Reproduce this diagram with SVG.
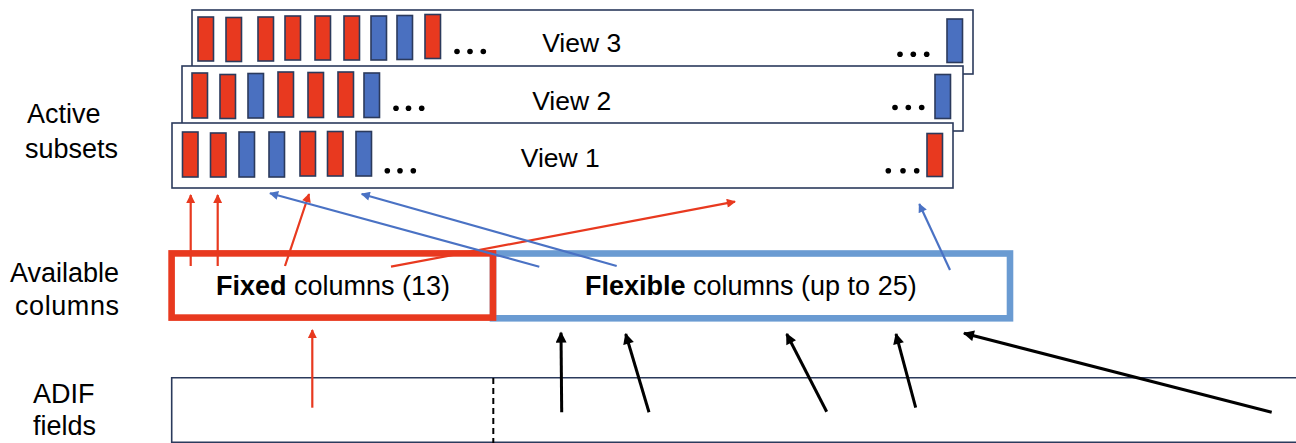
<svg xmlns="http://www.w3.org/2000/svg" width="1296" height="443" viewBox="0 0 1296 443">
<style>
.t{font-family:"Liberation Sans",Arial,sans-serif;fill:#000}
.lab{font-size:27px}
.vt{font-size:26.5px}
.ct{font-size:27px}
.b{font-weight:bold}
.view{fill:#fff;stroke:#2B3A5C;stroke-width:1.6}
.r{fill:#E8391F;stroke:#2B3A5C;stroke-width:1.6}
.u{fill:#4A70C0;stroke:#2B3A5C;stroke-width:1.6}
.dot{fill:#000}
.ar{stroke:#E8391F;stroke-width:2.2;fill:none}
.ab{stroke:#4A72C4;stroke-width:2.2;fill:none}
.ak{stroke:#000;stroke-width:3;fill:none}
</style>
<defs>
<marker id="mr" viewBox="0 0 10 10" refX="9" refY="5" markerUnits="userSpaceOnUse" markerWidth="10" markerHeight="9" orient="auto"><path d="M0,0 L10,5 L0,10 z" fill="#E8391F"/></marker>
<marker id="mb" viewBox="0 0 10 10" refX="9" refY="5" markerUnits="userSpaceOnUse" markerWidth="10" markerHeight="9" orient="auto"><path d="M0,0 L10,5 L0,10 z" fill="#4A72C4"/></marker>
<marker id="mk" viewBox="0 0 10 10" refX="9" refY="5" markerUnits="userSpaceOnUse" markerWidth="12" markerHeight="11" orient="auto"><path d="M0,0 L10,5 L0,10 z" fill="#000"/></marker>
</defs>
<rect width="1296" height="443" fill="#fff"/>

<g id="labels">
<text class="t lab" x="27" y="123.3">Active</text>
<text class="t lab" x="25" y="158.3">subsets</text>
<text class="t lab" x="10" y="281.7">Available</text>
<text class="t lab" x="15" y="315" textLength="104">columns</text>
<text class="t lab" x="33" y="403.3">ADIF</text>
<text class="t lab" x="33" y="435">fields</text>
</g>

<g id="view3">
<rect class="view" x="192" y="10" width="781" height="64"/>
<rect class="r" x="198" y="17" width="15.5" height="44"/>
<rect class="r" x="226" y="17.5" width="15.5" height="44"/>
<rect class="r" x="258" y="17" width="15.5" height="44"/>
<rect class="r" x="285" y="16" width="15.5" height="44"/>
<rect class="r" x="315" y="16" width="15.5" height="44"/>
<rect class="r" x="344" y="16" width="15.5" height="44"/>
<rect class="u" x="371" y="16" width="15.5" height="44"/>
<rect class="u" x="397" y="15.5" width="15.5" height="44"/>
<rect class="r" x="425" y="14.5" width="15.5" height="44"/>
<circle class="dot" cx="457" cy="51.5" r="2.8"/><circle class="dot" cx="470" cy="51.5" r="2.8"/><circle class="dot" cx="483.3" cy="51.5" r="2.8"/>
<text class="t vt" x="581.7" y="52.3" text-anchor="middle">View 3</text>
<circle class="dot" cx="900" cy="54.3" r="2.8"/><circle class="dot" cx="913.3" cy="54.3" r="2.8"/><circle class="dot" cx="926.7" cy="54.3" r="2.8"/>
<rect class="u" x="947" y="19" width="15.5" height="43.5"/>
</g>

<g id="view2">
<rect class="view" x="182" y="66" width="781" height="65"/>
<rect class="r" x="192" y="73" width="15.5" height="45"/>
<rect class="r" x="220" y="74.5" width="15.5" height="44"/>
<rect class="u" x="248" y="73.5" width="15.5" height="44.5"/>
<rect class="r" x="278" y="72" width="15.5" height="45"/>
<rect class="r" x="308" y="72.5" width="15.5" height="45"/>
<rect class="r" x="338" y="72" width="15.5" height="45"/>
<rect class="u" x="364" y="73" width="15.5" height="44.5"/>
<circle class="dot" cx="396" cy="108.3" r="2.8"/><circle class="dot" cx="408.5" cy="108.3" r="2.8"/><circle class="dot" cx="421.7" cy="108.3" r="2.8"/>
<text class="t vt" x="571.7" y="109.5" text-anchor="middle">View 2</text>
<circle class="dot" cx="895" cy="107.5" r="2.8"/><circle class="dot" cx="908.3" cy="107.5" r="2.8"/><circle class="dot" cx="921.7" cy="107.5" r="2.8"/>
<rect class="u" x="935" y="74.5" width="15.5" height="44"/>
</g>

<g id="view1">
<rect class="view" x="172" y="123" width="781" height="65"/>
<rect class="r" x="182.5" y="132" width="15.5" height="45"/>
<rect class="r" x="210.5" y="133" width="15.5" height="44"/>
<rect class="u" x="239" y="132" width="15.5" height="45"/>
<rect class="u" x="269" y="132" width="15.5" height="45"/>
<rect class="r" x="300" y="131.5" width="15.5" height="44.5"/>
<rect class="r" x="327.5" y="131.5" width="15.5" height="44.5"/>
<rect class="u" x="356" y="131.5" width="15.5" height="44.5"/>
<circle class="dot" cx="387.3" cy="170.7" r="2.8"/><circle class="dot" cx="400" cy="170.7" r="2.8"/><circle class="dot" cx="413.3" cy="170.7" r="2.8"/>
<text class="t vt" x="560.3" y="166.7" text-anchor="middle">View 1</text>
<circle class="dot" cx="888.3" cy="170.7" r="2.8"/><circle class="dot" cx="903" cy="170.7" r="2.8"/><circle class="dot" cx="916.7" cy="170.7" r="2.8"/>
<rect class="r" x="927" y="133.5" width="15.5" height="43"/>
</g>

<g id="flexible">
<rect x="493" y="253.5" width="517" height="64.8" fill="none" stroke="#6A9BD2" stroke-width="6.6"/>
<text class="t ct" x="585" y="295"><tspan class="b">Flexible</tspan> columns (up to 25)</text>
</g>

<g id="fixed">
<rect x="171.6" y="253.4" width="321.4" height="64.2" fill="none" stroke="#E8391F" stroke-width="6.6"/>
<text class="t ct" x="216" y="295"><tspan class="b">Fixed</tspan> columns (13)</text>
</g>

<g id="adif">
<path d="M1296,377.7 H171.7 V442.3 H1296" fill="none" stroke="#2B3A5C" stroke-width="1.6"/>
<line x1="493.3" y1="378" x2="493.3" y2="443" stroke="#000" stroke-width="2" stroke-dasharray="6,4"/>
</g>

<g id="connectors">
<line class="ar" x1="190.7" y1="266" x2="190.7" y2="195" marker-end="url(#mr)"/>
<line class="ar" x1="217.7" y1="266" x2="217.7" y2="195" marker-end="url(#mr)"/>
<line class="ar" x1="285" y1="266" x2="309" y2="194" marker-end="url(#mr)"/>
<line class="ar" x1="391" y1="266.7" x2="735" y2="201.7" marker-end="url(#mr)"/>
<line class="ar" x1="312.3" y1="407.7" x2="312.3" y2="330" marker-end="url(#mr)"/>
<line class="ab" x1="539.3" y1="266.7" x2="270" y2="193.3" marker-end="url(#mb)"/>
<line class="ab" x1="616.7" y1="266" x2="361.7" y2="194" marker-end="url(#mb)"/>
<line class="ab" x1="950" y1="270" x2="919.3" y2="204" marker-end="url(#mb)"/>
<line class="ak" x1="561.7" y1="412.3" x2="561" y2="332.7" marker-end="url(#mk)"/>
<line class="ak" x1="649" y1="412.3" x2="625.7" y2="334" marker-end="url(#mk)"/>
<line class="ak" x1="826.7" y1="411.7" x2="786.7" y2="334" marker-end="url(#mk)"/>
<line class="ak" x1="915.7" y1="407.7" x2="896" y2="334" marker-end="url(#mk)"/>
<line class="ak" x1="1271.7" y1="412.3" x2="964" y2="333.3" marker-end="url(#mk)"/>
</g>
</svg>
